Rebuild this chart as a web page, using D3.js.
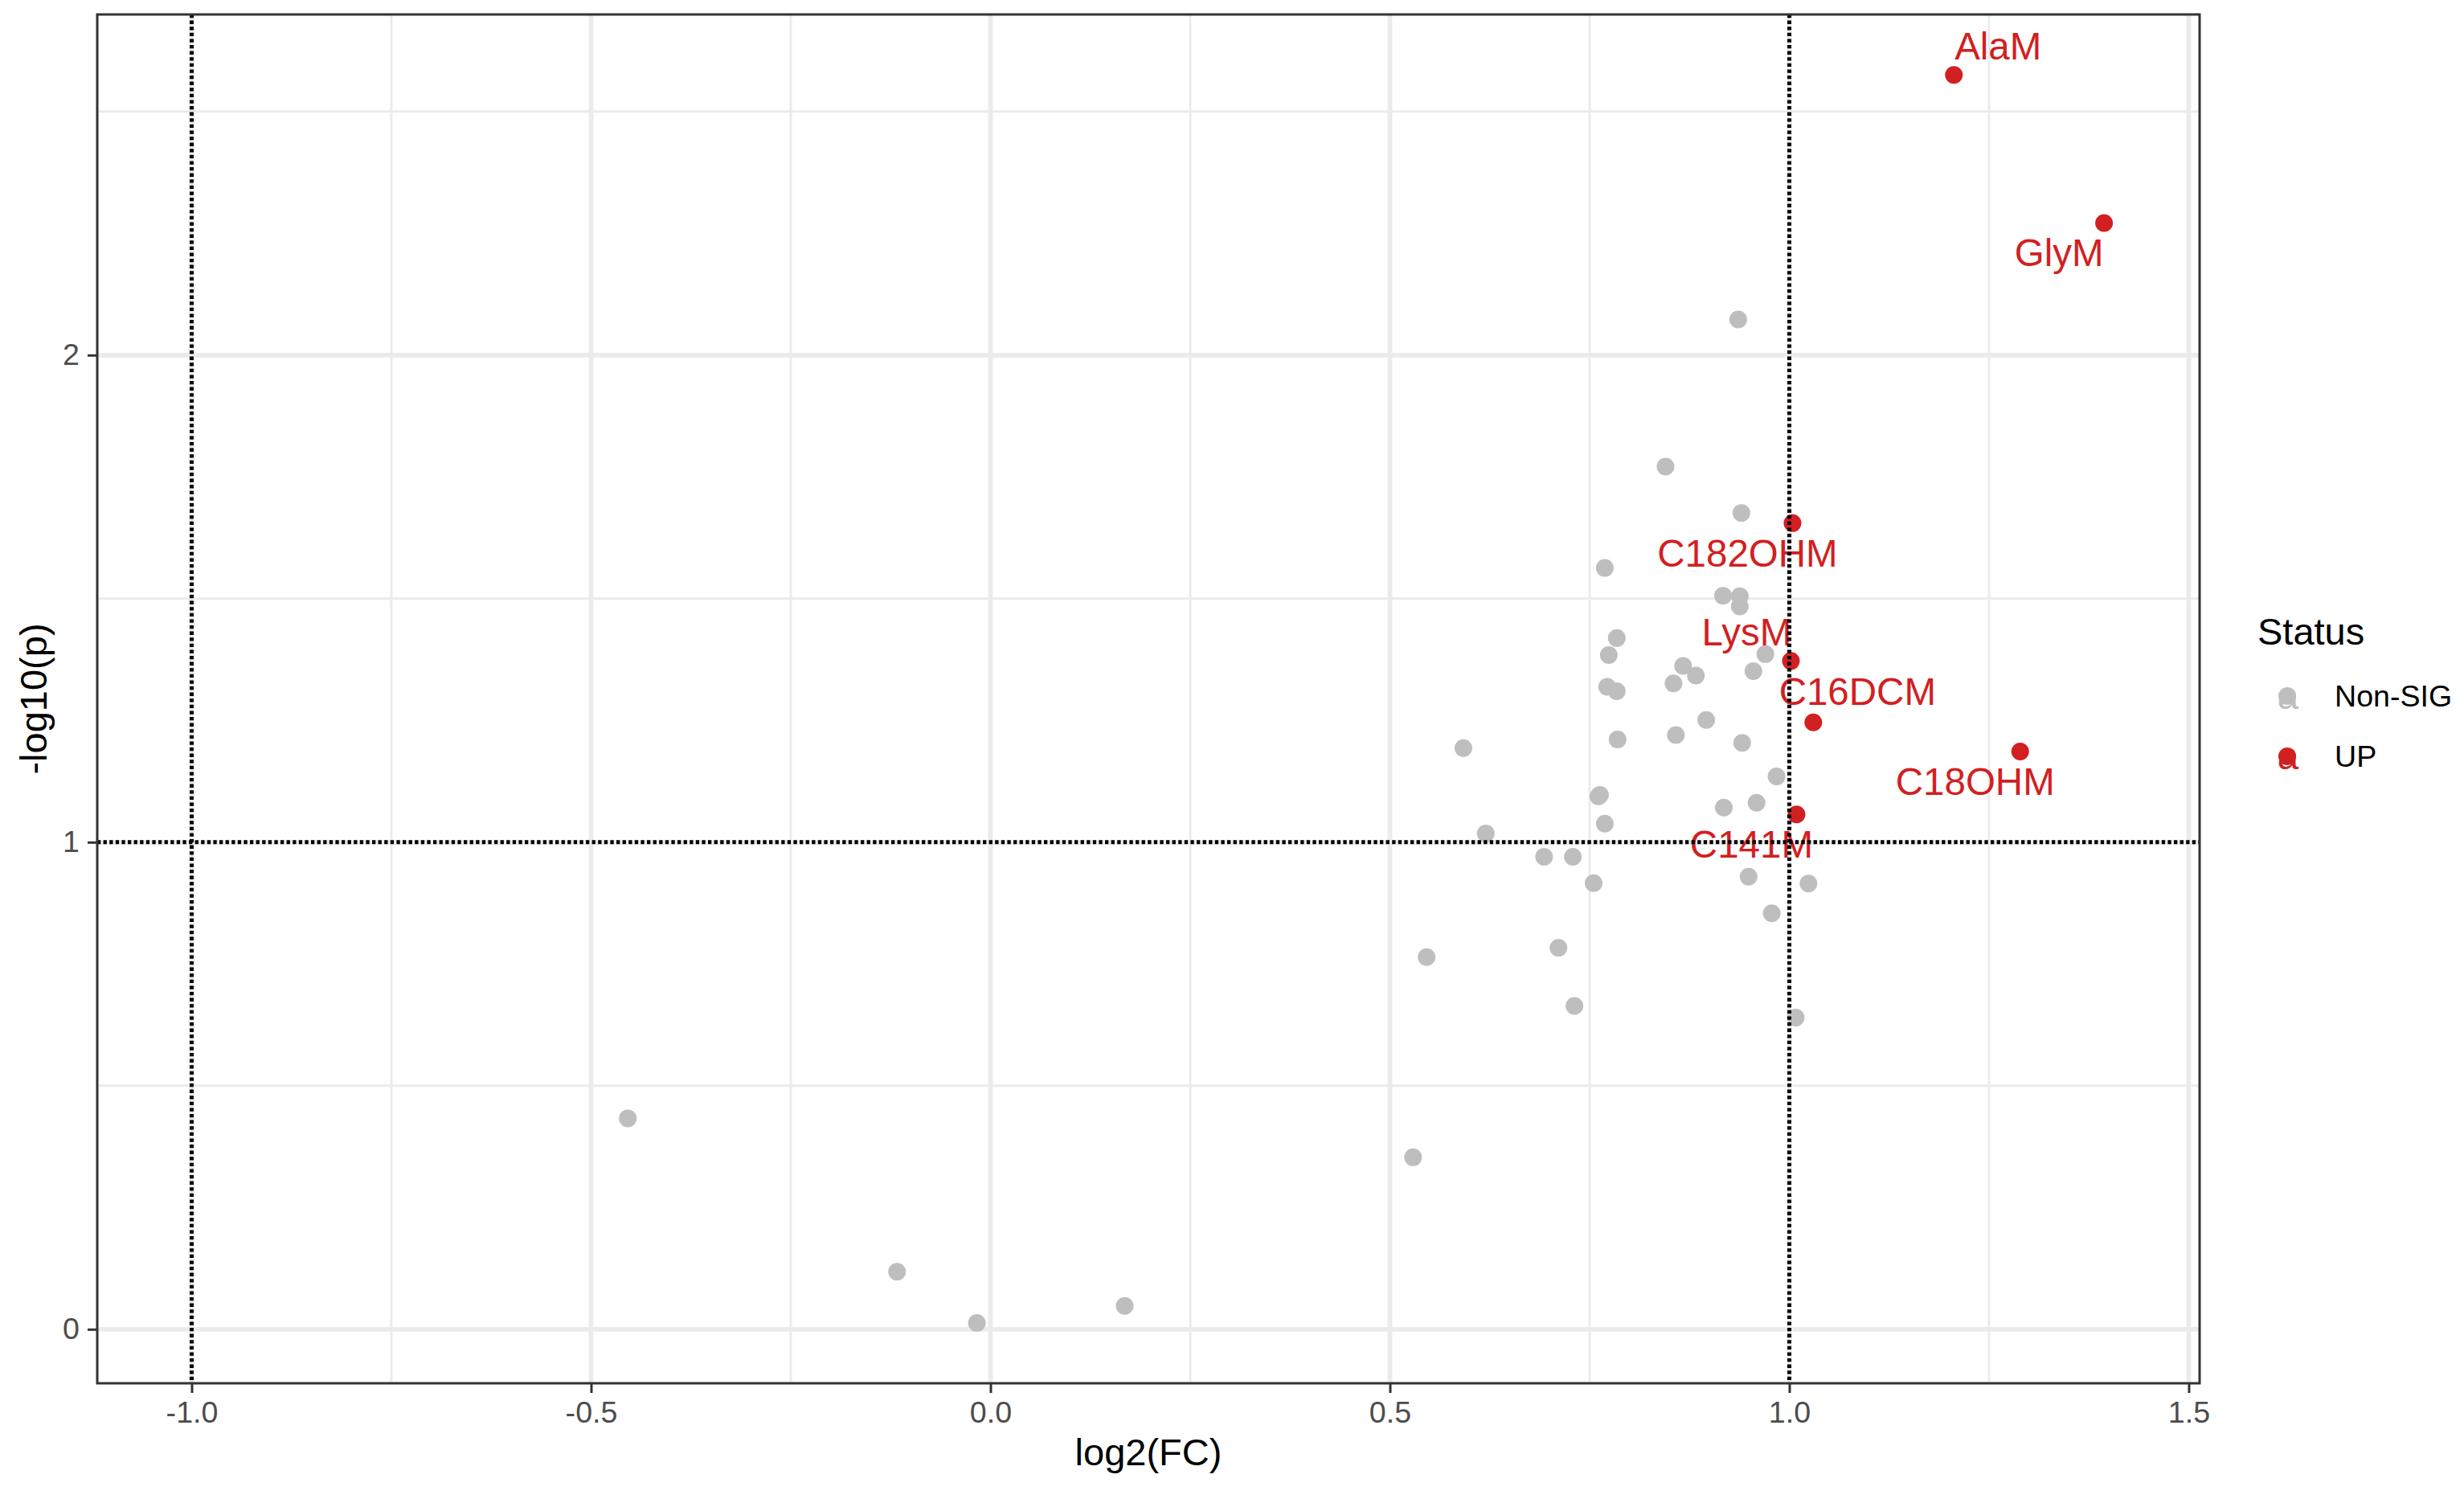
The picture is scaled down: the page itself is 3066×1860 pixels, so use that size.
<!DOCTYPE html>
<html>
<head>
<meta charset="utf-8">
<script src="https://cdn.jsdelivr.net/npm/d3@7"></script>
<style>
  html, body { margin: 0; padding: 0; background: #ffffff; }
  svg { display: block; font-family: "Liberation Sans", Arial, sans-serif; }
</style>
</head>
<body>
<svg id="chart" width="3066" height="1860"></svg>
<script>
// ---------------- data ----------------
const xTickValues = [-1.0, -0.5, 0.0, 0.5, 1.0, 1.5];
const xTickLabels = ["-1.0", "-0.5", "0.0", "0.5", "1.0", "1.5"];
const yTickValues = [0, 1, 2];
const yTickLabels = ["0", "1", "2"];
const xMinorValues = [-0.75, -0.25, 0.25, 0.75, 1.25];
const yMinorValues = [0.5, 1.5, 2.5];

const fcThreshold = [-1, 1];
const pThreshold = [1];

// Non-significant metabolites: log2(FC) and -log10(p)
const nonSigFC = [-0.454, -0.117, -0.017, 0.168, 0.529, 0.546, 0.592, 0.620, 0.693, 0.729,
  0.711, 0.731, 0.755, 0.761, 0.763, 0.769, 0.769, 0.774, 0.784,
  0.772, 0.784, 0.785, 0.845, 0.855, 0.867, 0.883, 0.858, 0.896, 0.936,
  0.940, 0.917, 0.938, 0.938, 0.955, 0.970, 0.941, 0.918, 0.959, 0.984,
  0.949, 0.978, 1.024, 1.008];
const nonSigP = [0.433, 0.118, 0.013, 0.048, 0.353, 0.764, 1.193, 1.018, 0.970, 0.970,
  0.783, 0.664, 0.916, 1.094, 1.097, 1.038, 1.563, 1.384, 1.419,
  1.319, 1.310, 1.211, 1.771, 1.326, 1.362, 1.342, 1.220, 1.251, 2.073,
  1.676, 1.506, 1.505, 1.484, 1.351, 1.386, 1.204, 1.071, 1.081, 1.135,
  0.929, 0.854, 0.915, 0.640];

// Up-regulated metabolites
const upNames = ["AlaM", "GlyM", "C182OHM", "LysM", "C16DCM", "C18OHM", "C141M"];
const upFC = [1.206, 1.394, 1.004, 1.002, 1.030, 1.289, 1.009];
const upP = [2.575, 2.271, 1.655, 1.372, 1.246, 1.186, 1.057];

const legendLabels = ["Non-SIG", "UP"];

// ---------------- layout / style ----------------
const labelDX = [55, -56, -56, -55, 55, -56, -56];
const labelDY = [-19, 53, 54, -19, -22, 54, 54];

const W = 3066, H = 1860;
const panel = { left: 121, right: 2737, top: 18, bottom: 1721 };
const colGrey = "#BEBEBE";
const colRed = "#D21F22";
const gridCol = "#EBEBEB";
const axisCol = "#333333";
const tickTextCol = "#4D4D4D";

const svg = d3.select("#chart");

const x = d3.scaleLinear().domain([-1.1182, 1.5136]).range([panel.left, panel.right]);
const y = d3.scaleLinear().domain([-0.1109, 2.6993]).range([panel.bottom, panel.top]);

svg.append("rect").attr("x", 0).attr("y", 0).attr("width", W).attr("height", H).attr("fill", "#fff");

svg.append("defs").append("clipPath").attr("id", "pclip")
  .append("rect").attr("x", panel.left).attr("y", panel.top)
  .attr("width", panel.right - panel.left).attr("height", panel.bottom - panel.top);

const plot = svg.append("g").attr("clip-path", "url(#pclip)");

// minor gridlines
plot.selectAll("line.xminor").data(xMinorValues).enter().append("line")
  .attr("x1", d => x(d)).attr("x2", d => x(d))
  .attr("y1", panel.top).attr("y2", panel.bottom)
  .attr("stroke", gridCol).attr("stroke-width", 2.9);
plot.selectAll("line.yminor").data(yMinorValues).enter().append("line")
  .attr("y1", d => y(d)).attr("y2", d => y(d))
  .attr("x1", panel.left).attr("x2", panel.right)
  .attr("stroke", gridCol).attr("stroke-width", 2.9);
// major gridlines
plot.selectAll("line.xmajor").data(xTickValues).enter().append("line")
  .attr("x1", d => x(d)).attr("x2", d => x(d))
  .attr("y1", panel.top).attr("y2", panel.bottom)
  .attr("stroke", gridCol).attr("stroke-width", 5.8);
plot.selectAll("line.ymajor").data(yTickValues).enter().append("line")
  .attr("y1", d => y(d)).attr("y2", d => y(d))
  .attr("x1", panel.left).attr("x2", panel.right)
  .attr("stroke", gridCol).attr("stroke-width", 5.8);

// points
plot.selectAll("circle.ns").data(nonSigFC).enter().append("circle")
  .attr("cx", d => x(d)).attr("cy", (d, i) => y(nonSigP[i]))
  .attr("r", 11).attr("fill", colGrey);
plot.selectAll("circle.up").data(upFC).enter().append("circle")
  .attr("cx", d => x(d)).attr("cy", (d, i) => y(upP[i]))
  .attr("r", 11).attr("fill", colRed);

// labels
plot.selectAll("text.lab").data(upNames).enter().append("text")
  .attr("x", (d, i) => x(upFC[i]) + labelDX[i])
  .attr("y", (d, i) => y(upP[i]) + labelDY[i])
  .attr("text-anchor", "middle")
  .attr("font-size", 47.5)
  .attr("fill", colRed)
  .text(d => d);

// threshold lines (dotted)
plot.selectAll("line.vref").data(fcThreshold).enter().append("line")
  .attr("x1", d => x(d)).attr("x2", d => x(d))
  .attr("y1", panel.top).attr("y2", panel.bottom)
  .attr("stroke", "#000").attr("stroke-width", 5).attr("stroke-dasharray", "4.3 3.3");
plot.selectAll("line.href").data(pThreshold).enter().append("line")
  .attr("y1", d => y(d)).attr("y2", d => y(d))
  .attr("x1", panel.left).attr("x2", panel.right)
  .attr("stroke", "#000").attr("stroke-width", 5).attr("stroke-dasharray", "4.3 3.3");

// panel border
svg.append("rect")
  .attr("x", panel.left).attr("y", panel.top)
  .attr("width", panel.right - panel.left).attr("height", panel.bottom - panel.top)
  .attr("fill", "none").attr("stroke", axisCol).attr("stroke-width", 3);

// axes
const xAxis = d3.axisBottom(x).tickValues(xTickValues)
  .tickFormat((d, i) => xTickLabels[i]).tickSize(12).tickSizeOuter(0).tickPadding(10);
const gx = svg.append("g").attr("transform", `translate(0,${panel.bottom})`).call(xAxis);
gx.select(".domain").remove();
gx.selectAll(".tick line").attr("stroke", axisCol).attr("stroke-width", 3);
gx.selectAll(".tick text").attr("fill", tickTextCol).attr("font-size", 37.6)
  .attr("font-family", "Liberation Sans, Arial, sans-serif");

const yAxis = d3.axisLeft(y).tickValues(yTickValues)
  .tickFormat((d, i) => yTickLabels[i]).tickSize(12).tickSizeOuter(0).tickPadding(10);
const gy = svg.append("g").attr("transform", `translate(${panel.left},0)`).call(yAxis);
gy.select(".domain").remove();
gy.selectAll(".tick line").attr("stroke", axisCol).attr("stroke-width", 3);
gy.selectAll(".tick text").attr("fill", tickTextCol).attr("font-size", 37.6)
  .attr("font-family", "Liberation Sans, Arial, sans-serif");

// axis titles
svg.append("text")
  .attr("x", (panel.left + panel.right) / 2).attr("y", 1823)
  .attr("text-anchor", "middle").attr("font-size", 47).attr("fill", "#000")
  .text("log2(FC)");
svg.append("text")
  .attr("transform", `translate(58,${(panel.top + panel.bottom) / 2}) rotate(-90)`)
  .attr("text-anchor", "middle").attr("font-size", 47).attr("fill", "#000")
  .text("-log10(p)");

// legend
const lg = svg.append("g");
lg.append("text").attr("x", 2809).attr("y", 802).attr("font-size", 47).attr("fill", "#000").text("Status");
const legendColors = [colGrey, colRed];
const rowY = [866, 941];
legendLabels.forEach((lab, i) => {
  lg.append("circle").attr("cx", 2846).attr("cy", rowY[i]).attr("r", 11).attr("fill", legendColors[i]);
  lg.append("text").attr("x", 2847).attr("y", rowY[i] + 16).attr("text-anchor", "middle")
    .attr("font-size", 47.5).attr("fill", legendColors[i]).text("a");
  lg.append("text").attr("x", 2905).attr("y", rowY[i] + 12.5).attr("font-size", 37.6)
    .attr("fill", "#000").text(lab);
});
</script>
</body>
</html>
